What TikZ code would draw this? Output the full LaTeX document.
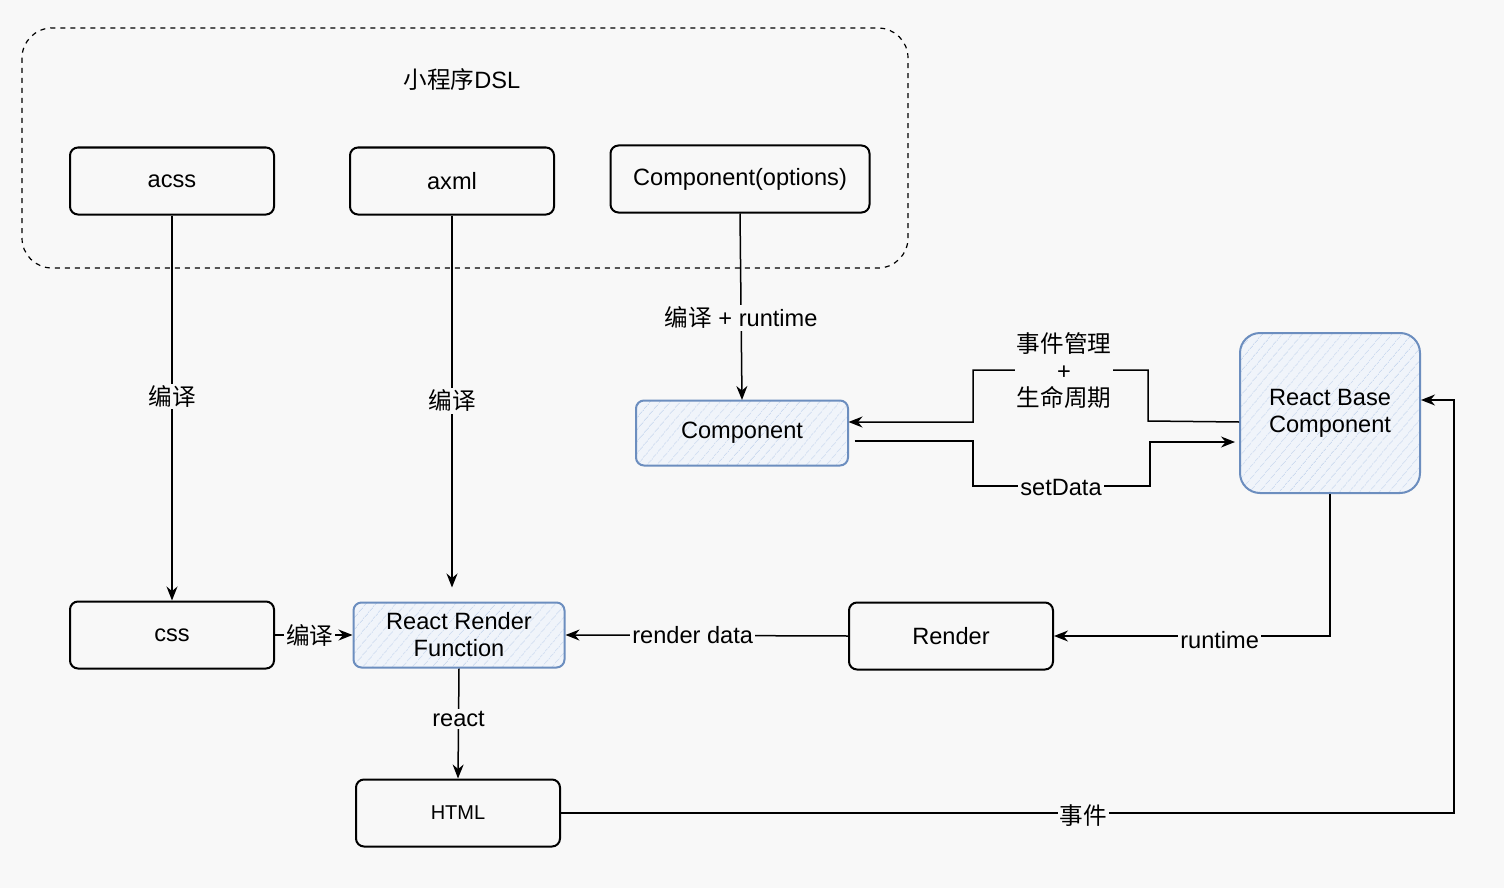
\documentclass[tikz,border=0pt]{standalone}
\usepackage{fontspec}
\setmainfont{Liberation Sans}
\newfontfamily\cjk{Noto Sans CJK SC}
\usetikzlibrary{arrows.meta, patterns.meta}
\usepackage{xcolor}
\definecolor{canvas}{HTML}{F8F8F8}
\definecolor{boxblue}{HTML}{6C8EBF}
\definecolor{hatchbg}{HTML}{F0F4FA}
\definecolor{hatchline}{HTML}{CAD9EF}
\tikzstyle{plainbox} = [rectangle, rounded corners=4pt, minimum width=102pt, minimum height=33.5pt,
    text centered, draw=black, line width=1pt, fill=canvas]
\tikzstyle{bluebox} = [rectangle, rounded corners=4pt, minimum width=106pt, minimum height=32.5pt,
    align=center, draw=boxblue, line width=1pt, preaction={fill=hatchbg},
    pattern={Lines[angle=50, distance=4pt, line width=0.5pt]}, pattern color=hatchline]
\tikzstyle{dslframe} = [dashed, dash pattern=on 2.5pt off 2.5pt, line width=0.6pt, rounded corners=15pt]
\tikzstyle{lbl} = [fill=canvas, inner sep=1pt, align=center]
\tikzstyle{arrow} = [line width=0.75pt, -{Stealth[length=7pt, width=5.5pt]}]

\begin{document}
\begin{tikzpicture}[x=0.5pt, y=-0.5pt, font=\fontsize{11.8}{13.5}\selectfont]
\fill[canvas] (0,0) rectangle (1504,888);
\useasboundingbox (0,0) rectangle (1504,888);

% mini program sources
\draw[dslframe] (22,28) rectangle (908,268);
\node (dsl) at (462,80) {{\cjk 小程序}DSL};
\node (acss) [plainbox] at (172,181) {acss};
\node (axml) [plainbox] at (452,181) {axml};
\node (opts) [plainbox, minimum width=129.5pt] at (740,179) {Component(options)};

% runtime side
\node (comp) [bluebox] at (742,433) {Component};
\node (base) [bluebox, rounded corners=10pt, minimum width=90pt, minimum height=80pt] at (1330,413) {React Base\\Component};
\node (css) [plainbox] at (172,635) {css};
\node (rrf) [bluebox, minimum width=105.5pt] at (459,635) {React Render\\Function};
\node (render) [plainbox] at (951,636) {Render};
\node (html) [plainbox, font=\fontsize{10}{12}\selectfont] at (458,813) {HTML};

% connectors
\draw[arrow] (acss.south) -- (css.north) node[lbl, pos=0.47] {{\cjk 编译}};
\draw[arrow, shorten >=7pt] (axml.south) -- (axml.south |- rrf.north) node[lbl, pos=0.48] {{\cjk 编译}};
\draw[arrow] (opts.south) -- (comp.north) node[lbl, pos=0.56] {{\cjk 编译} + runtime};
\draw[arrow] ([yshift=-4.5pt]base.west) -- (1148,421) -- (1148,370) -- (973,370) -- (973,422) -- ([yshift=5.5pt]comp.east);
\node (life) [lbl] at (1064,371) {{\cjk 事件管理}\\+\\{\cjk 生命周期}};
\draw[arrow] ([xshift=3pt, yshift=-4pt]comp.east) -- (973,441) -- (973,486) -- (1150,486)
    -- (1150,442) -- ([xshift=-2pt, yshift=-14.5pt]base.west);
\node (setdata) [lbl] at (1061,487) {setData};
\draw[arrow] (base.south) |- (render.east) node[lbl, pos=0.7, yshift=-2pt] {runtime};
\draw[arrow] (render.west) -- (rrf.east) node[lbl, pos=0.55] {render data};
\draw[arrow] (css.east) -- (rrf.west) node[lbl, pos=0.45] {{\cjk 编译}};
\draw[arrow] (rrf.south) -- (html.north) node[lbl, pos=0.46] {react};
\draw[arrow] (html.east) -- (1454,813) node[lbl, pos=0.585, yshift=-1.5pt] {{\cjk 事件}}
    -- (1454,400) -- ([yshift=6.5pt]base.east);
\end{tikzpicture}
\end{document}
